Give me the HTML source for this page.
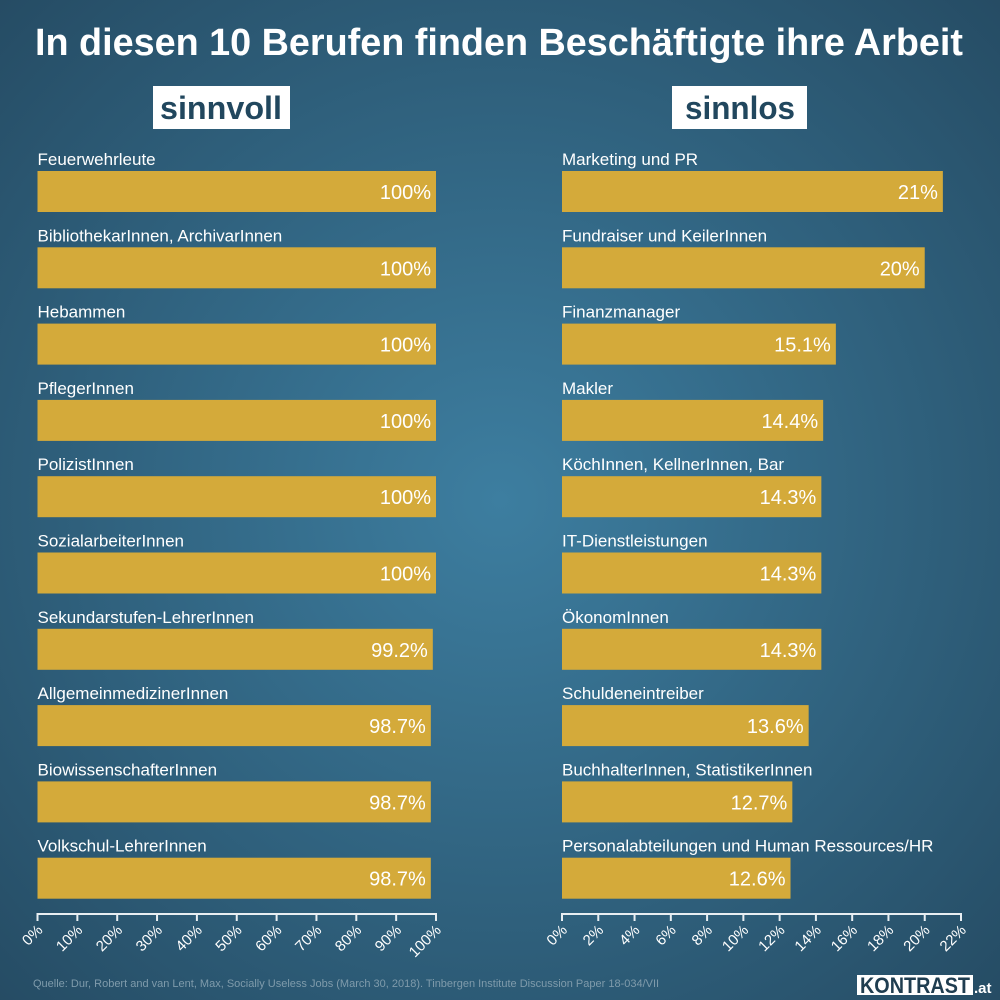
<!DOCTYPE html>
<html><head><meta charset="utf-8"><style>
html,body{margin:0;padding:0;width:1000px;height:1000px;overflow:hidden}
svg{display:block;font-family:"Liberation Sans",sans-serif}
</style></head><body>
<svg id="chart" width="1000" height="1000" viewBox="0 0 1000 1000">
<defs><radialGradient id="bg" cx="0.5" cy="0.5" r="0.72">
<stop offset="0" stop-color="#3d7ea0"/><stop offset="1" stop-color="#254b63"/></radialGradient></defs>
<rect width="1000" height="1000" fill="url(#bg)"/>
<text x="499" y="55" text-anchor="middle" font-size="38" font-weight="bold" fill="#fff" textLength="928" lengthAdjust="spacingAndGlyphs">In diesen 10 Berufen finden Beschäftigte ihre Arbeit</text>
<rect x="153" y="86" width="137" height="43" fill="#fff"/>
<text x="221" y="119" text-anchor="middle" font-size="32" font-weight="bold" fill="#21475e" textLength="122" lengthAdjust="spacingAndGlyphs">sinnvoll</text>
<rect x="672" y="86" width="135" height="43" fill="#fff"/>
<text x="740" y="119" text-anchor="middle" font-size="32" font-weight="bold" fill="#21475e" textLength="110" lengthAdjust="spacingAndGlyphs">sinnlos</text>
<g id="left"></g>
<g id="right"></g>
<text x="33" y="987" font-size="11" fill="#7f9bab">Quelle: Dur, Robert and van Lent, Max, Socially Useless Jobs (March 30, 2018). Tinbergen Institute Discussion Paper 18-034/VII</text>
<rect x="857" y="975" width="116" height="20" fill="#fff"/>
<text x="915" y="993" text-anchor="middle" font-size="22" font-weight="bold" fill="#1f3d50" textLength="110" lengthAdjust="spacingAndGlyphs">KONTRAST</text>
<text x="974" y="993" font-size="15" font-weight="bold" fill="#fff">.at</text>
</svg>
<script>
const leftCategories=["Feuerwehrleute","BibliothekarInnen, ArchivarInnen","Hebammen","PflegerInnen","PolizistInnen","SozialarbeiterInnen","Sekundarstufen-LehrerInnen","AllgemeinmedizinerInnen","BiowissenschafterInnen","Volkschul-LehrerInnen"];
const leftValues=[100,100,100,100,100,100,99.2,98.7,98.7,98.7];
const leftLabels=["100%","100%","100%","100%","100%","100%","99.2%","98.7%","98.7%","98.7%"];
const leftTicks=[0,10,20,30,40,50,60,70,80,90,100];
const rightCategories=["Marketing und PR","Fundraiser und KeilerInnen","Finanzmanager","Makler","KöchInnen, KellnerInnen, Bar","IT-Dienstleistungen","ÖkonomInnen","Schuldeneintreiber","BuchhalterInnen, StatistikerInnen","Personalabteilungen und Human Ressources/HR"];
const rightValues=[21,20,15.1,14.4,14.3,14.3,14.3,13.6,12.7,12.6];
const rightLabels=["21%","20%","15.1%","14.4%","14.3%","14.3%","14.3%","13.6%","12.7%","12.6%"];
const rightTicks=[0,2,4,6,8,10,12,14,16,18,20,22];
const NS="http://www.w3.org/2000/svg";
function mk(parent,tag,attrs,text){const e=document.createElementNS(NS,tag);for(const k in attrs)e.setAttribute(k,attrs[k]);if(text!==undefined)e.textContent=text;parent.appendChild(e);return e;}
function draw(gid,cats,vals,labels,ticks,x0,x1,maxV){
  const g=document.getElementById(gid);
  const xs=v=>x0+(v/maxV)*(x1-x0);
  const ys=i=>171+i*76.3;
  cats.forEach((c,i)=>{
    const t=mk(g,"text",{x:x0,y:ys(i)-6,"font-size":17,fill:"#fff"},c);
    
    
    const r=mk(g,"rect",{x:x0,y:ys(i),width:xs(vals[i])-x0,height:41,fill:"#d4aa3a"});
    
    
    const v=mk(g,"text",{x:xs(vals[i])-5,y:ys(i)+28,"font-size":20,fill:"#fff","text-anchor":"end"},labels[i]);
    
    
  });
  const ay=914;
  const ax=mk(g,"line",{x1:x0,x2:x1,y1:ay,y2:ay,stroke:"#e8eef2","stroke-width":2});
  
  
  ticks.forEach(tv=>{
    const x=xs(tv);
    const tk=mk(g,"line",{x1:x,x2:x,y1:ay-1,y2:ay+7,stroke:"#e8eef2","stroke-width":2});
    
    
    const lb=mk(g,"text",{x:x+6,y:ay+17,"font-size":15,fill:"#fff","text-anchor":"end",transform:`rotate(-45 ${x+6} ${ay+17})`},tv+"%");
    
    
  });
}
draw("left",leftCategories,leftValues,leftLabels,leftTicks,37.5,436,100);
draw("right",rightCategories,rightValues,rightLabels,rightTicks,562,961,22);
</script>
</body></html>
